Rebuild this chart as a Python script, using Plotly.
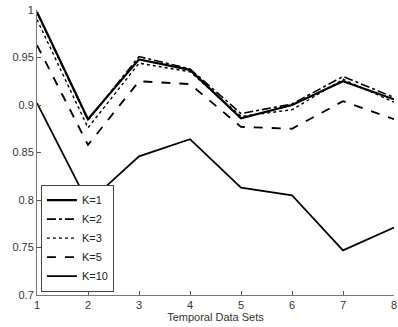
import plotly.graph_objects as go

x_vals = [1, 2, 3, 4, 5, 6, 7, 8]
k1 = [0.998, 0.885, 0.948, 0.937, 0.886, 0.900, 0.925, 0.906]
k2 = [0.997, 0.884, 0.951, 0.938, 0.891, 0.901, 0.930, 0.908]
k3 = [0.990, 0.876, 0.944, 0.935, 0.888, 0.895, 0.927, 0.903]
k5 = [0.963, 0.858, 0.925, 0.922, 0.877, 0.875, 0.904, 0.885]
k10 = [0.902, 0.797, 0.846, 0.864, 0.813, 0.805, 0.747, 0.771]
names = ["K=1", "K=2", "K=3", "K=5", "K=10"]
y_ticks = [0.7, 0.75, 0.8, 0.85, 0.9, 0.95, 1.0]
y_tick_text = ["0.7", "0.75", "0.8", "0.85", "0.9", "0.95", "1"]

series = [k1, k2, k3, k5, k10]
dashes = ["solid", "dashdot", "dot", "dash", "solid"]
widths = [2.2, 1.6, 1.4, 1.8, 1.8]

fig = go.Figure()
for name, ys, d, w in zip(names, series, dashes, widths):
    fig.add_trace(go.Scatter(x=x_vals, y=ys, mode="lines", name=name,
                             line=dict(color="black", dash=d, width=w)))

fig.update_layout(
    width=398, height=327,
    margin=dict(l=37, r=1, t=10, b=32),
    paper_bgcolor="white", plot_bgcolor="white",
    font=dict(family="Liberation Sans, Arial, sans-serif", size=11, color="#333"),
    showlegend=True,
    legend=dict(x=0.011, y=0.012, xanchor="left", yanchor="bottom",
                bordercolor="#444", borderwidth=1, bgcolor="white",
                font=dict(size=11, color="#222"), tracegroupgap=0,
                itemwidth=30),
    xaxis=dict(range=[1, 8], tickvals=x_vals, ticks="inside", ticklen=4,
               tickcolor="#555", showline=True, linecolor="#777", linewidth=1,
               showgrid=False, zeroline=False, ticklabeloverflow="allow",
               title=dict(text="Temporal Data Sets", standoff=2,
                          font=dict(size=11, color="#333"))),
    yaxis=dict(range=[0.7, 1.0], tickvals=y_ticks, ticktext=y_tick_text,
               ticks="inside", ticklen=4, tickcolor="#555", showline=True,
               linecolor="#777", linewidth=1, showgrid=False, zeroline=False),
)

fig.write_html("out.html")
